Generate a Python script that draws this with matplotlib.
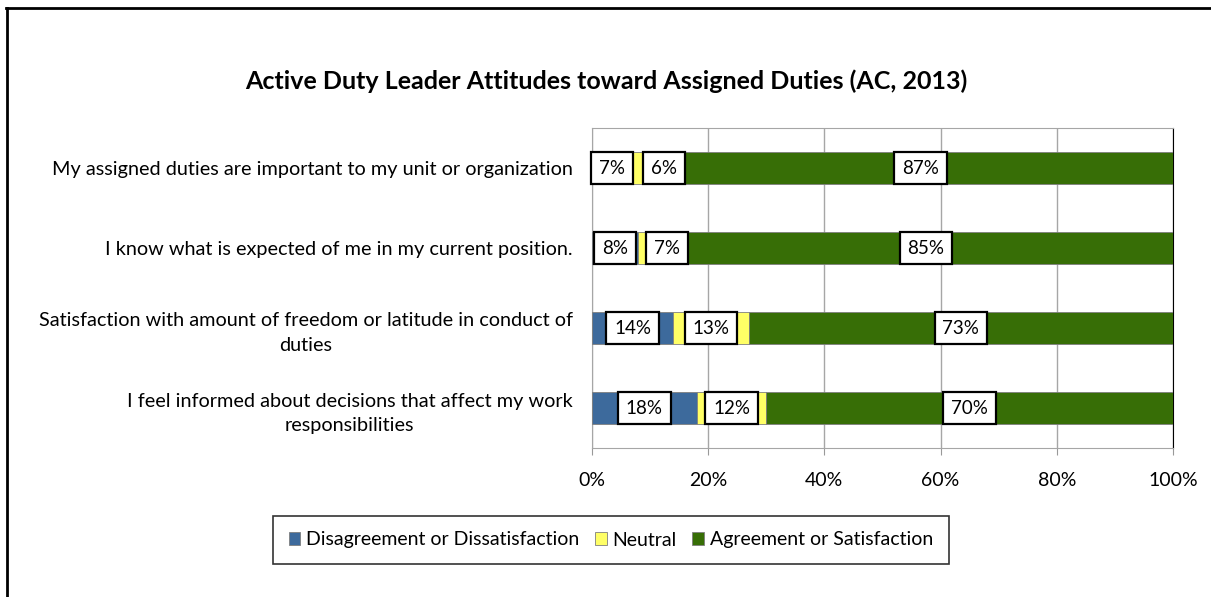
import matplotlib
matplotlib.use("Agg")
import matplotlib.pyplot as plt
from matplotlib.lines import Line2D
from matplotlib.ticker import PercentFormatter

plt.rcParams['font.family'] = ['Lato', 'DejaVu Sans']

# survey items, top to bottom
items = [
    "My assigned duties are important to my unit or organization",
    "I know what is expected of me in my current position.",
    "Satisfaction with amount of freedom or latitude in conduct of\nduties",
    "I feel informed about decisions that affect my work\nresponsibilities",
]
disagree = [7, 8, 14, 18]
neutral = [6, 7, 13, 12]
agree = [87, 85, 73, 70]

series_names = ["Disagreement or Dissatisfaction", "Neutral", "Agreement or Satisfaction"]
colors = ["#3D6A9C", "#FFFF66", "#376E06"]
ticks = [0, 20, 40, 60, 80, 100]

fig = plt.figure(figsize=(12.11, 5.97), dpi=100)
ax = fig.add_axes([592 / 1211, 1 - 448 / 597, 581 / 1211, 320 / 597])

ypos = list(range(len(items)))
left = [0] * len(items)
label_rows = [[] for _ in items]
for name, vals, col in zip(series_names, [disagree, neutral, agree], colors):
    bars = ax.barh(ypos, vals, left=left, height=0.41, color=col, label=name,
                   edgecolor="#7f7f7f", linewidth=0.6, zorder=3)
    for i, (b, v) in enumerate(zip(bars, vals)):
        t = ax.text(left[i] + v / 2, i, f"{v}%", ha="center", va="center",
                    fontsize=13.5, zorder=5,
                    bbox=dict(boxstyle="square,pad=0.42", fc="white", ec="black", lw=1.6))
        label_rows[i].append(t)
    left = [l + v for l, v in zip(left, vals)]

ax.set_xlim(0, 100)
ax.set_ylim(len(items) - 0.5, -0.5)
ax.set_yticks(ypos)
ax.set_yticklabels(items, fontsize=14.3)
for lbl in ax.get_yticklabels():
    lbl.set_multialignment("center")
    lbl.set_linespacing(1.55)
ax.tick_params(axis="y", length=0, pad=14)
ax.set_xticks(ticks)
ax.xaxis.set_major_formatter(PercentFormatter(decimals=0))
ax.tick_params(axis="x", labelsize=14, length=5, color="#999999", pad=12)
ax.grid(axis="x", color="#a6a6a6", linewidth=1, zorder=0)
ax.set_axisbelow(True)
for s in ["left", "bottom", "top"]:
    ax.spines[s].set_color("#a6a6a6")
ax.spines["right"].set_color("black")

# nudge labels right when their boxes would touch the previous one
fig.canvas.draw()
r = fig.canvas.get_renderer()
inv = ax.transData.inverted()
for row in label_rows:
    for prev, cur in zip(row[:-1], row[1:]):
        pb = prev.get_bbox_patch().get_window_extent(r)
        cb = cur.get_bbox_patch().get_window_extent(r)
        need = pb.x1 + 10 - cb.x0
        if need > 0:
            x, y = cur.get_position()
            px = ax.transData.transform((x, y))
            cur.set_x(inv.transform((px[0] + need, px[1]))[0])

fig.text(606 / 1211, 1 - 81 / 597, "Active Duty Leader Attitudes toward Assigned Duties (AC, 2013)",
         ha="center", va="center", fontsize=18, fontweight="bold")

leg = fig.legend(loc="center", bbox_to_anchor=(611 / 1211, 1 - 540 / 597), ncol=3,
                 fontsize=14, frameon=True, fancybox=False, edgecolor="black",
                 handlelength=0.6, handleheight=0.6, handletextpad=0.3, columnspacing=0.8,
                 borderpad=0.8)
leg.get_frame().set_linewidth(1.2)

# outer frame (top and left visible)
fig.add_artist(Line2D([6 / 1211, 1], [1 - 8 / 597] * 2, color="black", lw=2, transform=fig.transFigure))
fig.add_artist(Line2D([7 / 1211] * 2, [0, 1 - 8 / 597], color="black", lw=2, transform=fig.transFigure))

fig.savefig("out.png", dpi=100)
